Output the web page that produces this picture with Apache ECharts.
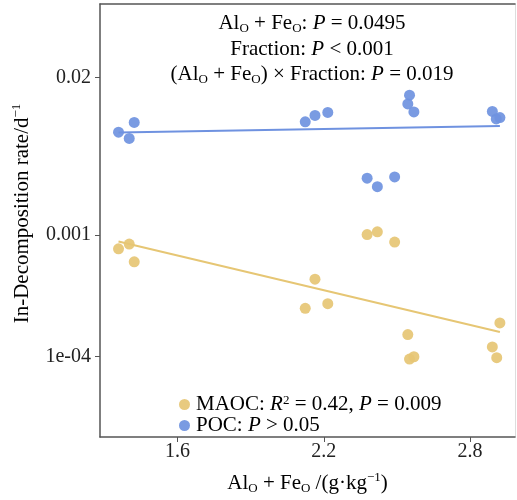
<!DOCTYPE html>
<html>
<head>
<meta charset="utf-8">
<script src="https://cdn.jsdelivr.net/npm/echarts@6/dist/echarts.min.js"></script>
<style>html,body{margin:0;padding:0;background:#fff;}#c{width:517px;height:500px;}</style>
</head>
<body>
<div id="c"></div>
<script>
// Al_O + Fe_O (g/kg) for each sample
const xMAOC = [1.3575, 1.4015, 1.422, 2.164, 2.124, 2.2165, 2.378, 2.420, 2.491, 2.545, 2.552, 2.570, 2.923, 2.892, 2.910];
const yMAOC = [0.000771, 0.000843, 0.000603, 0.000433, 0.000249, 0.000272, 0.001011, 0.001065, 0.000876, 0.0001515, 0.0000952, 0.0000994, 0.0001888, 0.0001197, 0.0000976];
const xPOC = [1.3575, 1.422, 1.4015, 2.124, 2.164, 2.2165, 2.552, 2.545, 2.570, 2.378, 2.420, 2.491, 2.892, 2.908, 2.923];
const yPOC = [0.00706, 0.00849, 0.00626, 0.00858, 0.00970, 0.01027, 0.01423, 0.01206, 0.01037, 0.002947, 0.002509, 0.003020, 0.01046, 0.00908, 0.00930];
// fitted regression lines (endpoints)
const fitX = [1.3575, 2.923];
const fitMAOC = [0.000886, 0.000159];
const fitPOC = [0.00700, 0.00795];
// y tick values and labels
const yTickVals = [0.0001, 0.001, 0.02];
const yTickLabels = ['1e-04', '0.001', '0.02'];
const xTicks = [1.6, 2.2, 2.8];

const gold = '#E6C674';
const blue = '#6F92E0';
const FONT = '"Liberation Serif", "Times New Roman", serif';
const lg = v => Math.log10(v);
const pts = (xs, ys) => xs.map((x, i) => [x, lg(ys[i])]);

const mkRich = fs => ({
  s: {fontSize: Math.round(fs * 0.6), fontFamily: FONT, color: '#000', verticalAlign: 'bottom'},
  sup: {fontSize: Math.round(fs * 0.6), fontFamily: FONT, color: '#000', verticalAlign: 'top'},
  i: {fontSize: fs, fontFamily: FONT, fontStyle: 'italic', color: '#000'}
});
const titleStyle = {fontSize: 21, fontFamily: FONT, fontWeight: 'normal', color: '#000', lineHeight: 24, rich: mkRich(21)};

const chart = echarts.init(document.getElementById('c'));
chart.setOption({
  backgroundColor: '#fff',
  animation: false,
  grid: {left: 100, right: 2, top: 4, bottom: 63, show: false},
  title: [
    {text: 'Al{s|O} + Fe{s|O}: {i|P} = 0.0495', left: 307, top: 6, textAlign: 'center', textStyle: titleStyle},
    {text: 'Fraction: {i|P} < 0.001', left: 307, top: 32, textAlign: 'center', textStyle: titleStyle},
    {text: '(Al{s|O} + Fe{s|O}) × Fraction: {i|P} = 0.019', left: 307, top: 57, textAlign: 'center', textStyle: titleStyle}
  ],
  legend: {
    orient: 'vertical', left: 174, top: 389, itemGap: 0, itemWidth: 13, itemHeight: 11,
    icon: 'circle', data: ['MAOC', 'POC'],
    formatter: n => n === 'MAOC' ? 'MAOC: {i|R}{sup|2} = 0.42, {i|P} = 0.009' : 'POC: {i|P} > 0.05',
    textStyle: {fontSize: 21, fontFamily: FONT, color: '#000', lineHeight: 20, padding: [0, 0, 0, 0], rich: mkRich(21)}
  },
  xAxis: [{
    type: 'value', min: 1.2815, max: 2.985, position: 'bottom',
    name: 'Al{s|O} + Fe{s|O} /(g·kg{sup|−1})', nameLocation: 'middle', nameGap: 34,
    nameTextStyle: {fontSize: 21, fontFamily: FONT, color: '#000', lineHeight: 24, rich: mkRich(21)},
    axisLine: {lineStyle: {color: '#555', width: 1.5}},
    axisTick: {show: true, length: 5, lineStyle: {color: '#555'}, customValues: xTicks},
    axisLabel: {fontSize: 20, fontFamily: FONT, color: '#222', margin: 5, customValues: xTicks,
      formatter: v => v.toFixed(1)},
    splitLine: {show: false}
  }, {
    type: 'value', min: 1.2815, max: 2.985, position: 'top',
    axisLine: {show: true, lineStyle: {color: '#555', width: 1.5}},
    axisTick: {show: false}, axisLabel: {show: false}, splitLine: {show: false}
  }],
  yAxis: [{
    type: 'value', min: -4.664, max: -1.095, position: 'left',
    name: 'In-Decomposition rate/d{sup|−1}', nameLocation: 'middle', nameGap: 62, nameRotate: 90,
    nameTextStyle: {fontSize: 21, fontFamily: FONT, color: '#000', lineHeight: 24, rich: mkRich(21), padding: [0, 0, 0, 14]},
    axisLine: {show: true, lineStyle: {color: '#555', width: 1.5}},
    axisTick: {show: true, length: 5, lineStyle: {color: '#555'}, customValues: yTickVals.map(lg)},
    axisLabel: {fontSize: 20, fontFamily: FONT, color: '#222', margin: 9, customValues: yTickVals.map(lg),
      formatter: v => {
        let best = 0, d = 1e9;
        yTickVals.forEach((t, i) => { const dd = Math.abs(lg(t) - v); if (dd < d) { d = dd; best = i; } });
        return yTickLabels[best];
      }},
    splitLine: {show: false}
  }, {
    type: 'value', min: -4.664, max: -1.095, position: 'right',
    axisLine: {show: true, lineStyle: {color: '#ddd', width: 1}},
    axisTick: {show: false}, axisLabel: {show: false}, splitLine: {show: false}
  }],
  series: [
    {name: 'MAOC', type: 'scatter', data: pts(xMAOC, yMAOC), symbolSize: 11,
     itemStyle: {color: gold, opacity: 0.92}, z: 3},
    {name: 'POC', type: 'scatter', data: pts(xPOC, yPOC), symbolSize: 11,
     itemStyle: {color: blue, opacity: 0.92}, z: 3},
    {name: 'MAOC fit', type: 'line', data: pts(fitX, fitMAOC), showSymbol: false,
     lineStyle: {color: gold, width: 2}, z: 2},
    {name: 'POC fit', type: 'line', data: pts(fitX, fitPOC), showSymbol: false,
     lineStyle: {color: blue, width: 2}, z: 2}
  ]
});
</script>
</body>
</html>
